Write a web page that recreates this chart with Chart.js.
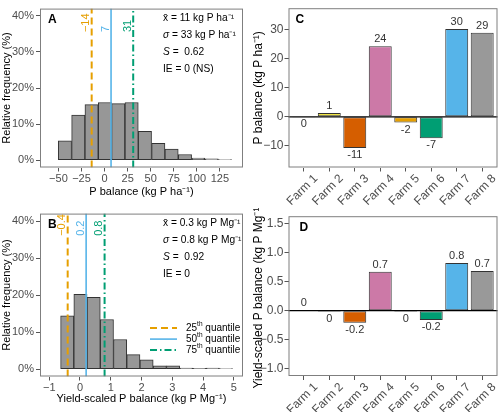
<!DOCTYPE html>
<html><head><meta charset="utf-8">
<script src="https://cdn.jsdelivr.net/npm/chart.js@4/dist/chart.umd.min.js"></script>
<style>
html,body{margin:0;padding:0;background:#fff;}
#wrap{position:relative;width:500px;height:412px;overflow:hidden;background:#fff;}
canvas{position:absolute;}
</style></head><body>
<div id="wrap">
<canvas id="cA" width="250" height="205" style="left:0;top:0"></canvas>
<canvas id="cB" width="250" height="207" style="left:0;top:205px"></canvas>
<canvas id="cC" width="250" height="208" style="left:250px;top:0"></canvas>
<canvas id="cD" width="250" height="204" style="left:250px;top:208px"></canvas>
</div>
<script>
// ---------- data ----------
const binCentersA = [-43.0, -28.5, -14.1, 0.4, 14.8, 29.3, 43.7, 58.2, 72.6, 87.1, 101.5, 116.0, 130.4];
const freqA = [5.4, 12.5, 15.4, 16.0, 15.7, 16.0, 8.0, 4.7, 3.1, 1.6, 0.6, 0.4, 0.2];
const quantilesA = [-14, 7, 31];
const xTicksA = [-50, -25, 0, 25, 50, 75, 100, 125];
const statsA = ["x̄ = 11 kg P ha⁻¹", "σ = 33 kg P ha⁻¹", "S =  0.62", "IE = 0 (NS)"];

const binCentersB = [-0.415, 0.015, 0.445, 0.875, 1.305, 1.735, 2.165, 2.595, 3.025, 3.455, 3.885, 4.315, 4.745];
const freqB = [14.4, 20.2, 19.4, 13.4, 8.0, 3.9, 2.5, 0.9, 0.9, 0.3, 0.2, 0.3, 0.1];
const quantilesB = [-0.4, 0.2, 0.8];
const xTicksB = [-1, 0, 1, 2, 3, 4, 5];
const statsB = ["x̄ = 0.3 kg P Mg⁻¹", "σ = 0.8 kg P Mg⁻¹", "S =  0.92", "IE = 0"];

const yTicksHist = [0, 10, 20, 30, 40];
const quantileNames = ["25", "50", "75"];

const farms = ["Farm 1", "Farm 2", "Farm 3", "Farm 4", "Farm 5", "Farm 6", "Farm 7", "Farm 8"];
const balanceC = [-0.1, 1.3, -10.8, 24.4, -2.0, -7.4, 30.3, 29.0];
const yTicksC = [-10, 0, 10, 20, 30];
const balanceD = [0.01, -0.02, -0.21, 0.67, -0.02, -0.16, 0.82, 0.68];
const yTicksD = [-1, -0.5, 0, 0.5, 1, 1.5];

// ---------- styles ----------
const FONT = "'Liberation Sans', Arial, sans-serif";
Chart.defaults.font.family = FONT;
const farmColors = ['#000000', '#F0E442', '#D55E00', '#CC79A7', '#E69F00', '#009E73', '#56B4E9', '#999999'];
const qColors = ['#E69F00', '#56B4E9', '#009E73'];
const qWidths = [2, 1.6, 2];
const qDash = [[7, 4], [], [7, 3, 1.5, 3]];
const minusFmt = v => String(v).replace('-', '\u2212');
const tickGrid = {display: true, drawOnChartArea: false, drawTicks: true, tickLength: 4, color: '#555', offset: false};

function drawBox(chart) {
  const a = chart.chartArea, c = chart.ctx;
  c.save(); c.strokeStyle = '#7f7f7f'; c.lineWidth = 1;
  c.strokeRect(a.left + 0.5, a.top + 0.5, a.right - a.left - 1, a.bottom - a.top - 1);
  c.restore();
}
function drawLetter(chart, letter, dx, dy) {
  const a = chart.chartArea, c = chart.ctx;
  c.save(); c.fillStyle = '#000'; c.font = 'bold 12px ' + FONT;
  c.textBaseline = 'middle'; c.textAlign = 'left';
  c.fillText(letter, a.left + dx, a.top + dy); c.restore();
}

function histChart(id, o) {
  const lineSets = o.quantiles.map((q, i) => ({
    type: 'line', label: quantileNames[i], data: [{x: q, y: -2}, {x: q, y: 42}],
    borderColor: qColors[i], borderWidth: qWidths[i], borderDash: qDash[i],
    pointRadius: 0, fill: false, order: 0
  }));
  const plugin = {
    id: 'hist' + id,
    afterDatasetsDraw(chart) { drawBox(chart); },
    afterDraw(chart) {
      const a = chart.chartArea, c = chart.ctx, xs = chart.scales.x, ys = chart.scales.y;
      drawLetter(chart, o.letter, 8, 11);
      const offs = [10, 26.5, 43.5, 61];
      o.stats.forEach((s, i) => {
        c.save(); c.fillStyle = '#000'; c.textBaseline = 'middle'; c.textAlign = 'left';
        let x = a.left + 123, y = a.top + offs[i];
        let head = s.charAt(0), rest = s.slice(1);
        if (s.startsWith('x̄')) { head = 'x̄'; rest = s.slice(2); }
        const ital = (head === 'σ' || head === 'S');
        c.font = (ital ? 'italic ' : '') + '10.2px ' + FONT;
        c.fillText(head, x, y); x += c.measureText(head).width;
        c.font = '10.2px ' + FONT; c.fillText(rest, x, y);
        c.restore();
      });
      o.quantiles.forEach((q, i) => {
        c.save(); c.fillStyle = qColors[i]; c.font = '11px ' + FONT;
        c.translate(xs.getPixelForValue(q) - 5.5, ys.getPixelForValue(o.qLabelY));
        c.rotate(-Math.PI / 2); c.textAlign = 'left'; c.textBaseline = 'middle';
        c.fillText(minusFmt(q), 0, 0); c.restore();
      });
      if (o.legend) {
        const rows = [114.5, 125.5, 136.5];
        chart.data.datasets.filter(d => d.type === 'line').forEach((d, i) => {
          const y = a.top + rows[i];
          c.save(); c.strokeStyle = d.borderColor; c.lineWidth = d.borderWidth;
          c.setLineDash(d.borderDash);
          c.beginPath(); c.moveTo(a.left + 110, y); c.lineTo(a.left + 137, y); c.stroke();
          c.setLineDash([]);
          c.fillStyle = '#000'; c.textBaseline = 'middle'; c.textAlign = 'left';
          let x = a.left + 146;
          c.font = '10px ' + FONT; c.fillText(d.label, x, y); x += c.measureText(d.label).width;
          c.font = '6.5px ' + FONT; c.fillText('th', x, y - 3.5); x += c.measureText('th').width;
          c.font = '10px ' + FONT; c.fillText(' quantile', x, y);
          c.restore();
        });
      }
    }
  };
  return new Chart(document.getElementById(id), {
    type: 'bar',
    data: {datasets: [...lineSets, {
      type: 'bar', label: 'freq', data: o.centers.map((cx, i) => ({x: cx, y: o.freq[i]})),
      backgroundColor: '#979797', borderColor: '#333', borderWidth: 1, borderSkipped: false,
      barPercentage: 1, categoryPercentage: 1, order: 1
    }]},
    options: {
      responsive: false, animation: false, devicePixelRatio: 1,
      layout: {padding: {top: o.padTop, right: 7, left: 0, bottom: 0}},
      plugins: {legend: {display: false}, tooltip: {enabled: false}},
      scales: {
        x: {type: 'linear', min: o.xmin, max: o.xmax, offset: false,
          afterBuildTicks: s => { s.ticks = o.xticks.map(v => ({value: v})); },
          afterFit: s => { s.height = o.xH; },
          grid: tickGrid, border: {display: false},
          ticks: {font: {size: 11}, color: '#4d4d4d', padding: 1, maxRotation: 0, autoSkip: false, callback: v => minusFmt(v)},
          title: {display: true, text: o.xTitle, font: {size: 11}, color: '#000', padding: {top: 0, bottom: o.xTitlePad}}},
        y: {type: 'linear', min: -2, max: 42,
          afterBuildTicks: s => { s.ticks = yTicksHist.map(v => ({value: v})); },
          afterFit: s => { s.width = 40; },
          grid: tickGrid, border: {display: false},
          ticks: {font: {size: 11}, color: '#4d4d4d', padding: 2, callback: v => v + '%'},
          title: {display: true, text: 'Relative frequency (%)', font: {size: 11}, color: '#000', padding: {top: 0, bottom: 0}}}
      }
    },
    plugins: [plugin]
  });
}

function farmChart(id, o) {
  const plugin = {
    id: 'farm' + id,
    afterDatasetsDraw(chart) {
      const a = chart.chartArea, c = chart.ctx, ys = chart.scales.y;
      const y0 = ys.getPixelForValue(0);
      c.save(); c.strokeStyle = '#000'; c.lineWidth = 1.2;
      c.beginPath(); c.moveTo(a.left, y0); c.lineTo(a.right, y0); c.stroke(); c.restore();
      drawBox(chart);
      const meta = chart.getDatasetMeta(0);
      meta.data.forEach((el, i) => {
        const v = o.values[i];
        c.save(); c.fillStyle = '#333'; c.font = '11px ' + FONT;
        c.textAlign = 'center'; c.textBaseline = 'middle';
        c.fillText(o.fmt(v), el.x, v >= 0 ? el.y - 7 : el.y + 7);
        c.restore();
      });
    },
    afterDraw(chart) { drawLetter(chart, o.letter, o.lx, 11); }
  };
  return new Chart(document.getElementById(id), {
    type: 'bar',
    data: {datasets: [{
      data: o.values.map((v, i) => ({x: i + 1, y: v})),
      backgroundColor: farmColors, borderColor: '#333', borderWidth: 1, borderSkipped: false,
      barPercentage: 0.9, categoryPercentage: 1
    }]},
    options: {
      responsive: false, animation: false, devicePixelRatio: 1,
      layout: {padding: {top: o.padTop, right: 2.5, left: 0, bottom: 0}},
      plugins: {legend: {display: false}, tooltip: {enabled: false}},
      scales: {
        x: {type: 'linear', min: 0.4, max: 8.6, offset: false,
          afterBuildTicks: s => { s.ticks = farms.map((f, i) => ({value: i + 1})); },
          afterFit: s => { s.height = o.xH; },
          grid: tickGrid, border: {display: false},
          ticks: {font: {size: 12}, color: '#4d4d4d', padding: 0, minRotation: 45, maxRotation: 45, autoSkip: false,
            labelOffset: 12, callback: (v, i) => farms[i]}},
        y: {type: 'linear', min: o.ymin, max: o.ymax,
          afterBuildTicks: s => { s.ticks = o.yticks.map(v => ({value: v})); },
          afterFit: s => { s.width = 38.5; },
          grid: tickGrid, border: {display: false},
          ticks: {font: {size: 12}, color: '#4d4d4d', padding: 1, callback: o.yfmt},
          title: {display: true, text: o.yTitle, font: {size: 12}, color: '#000', padding: {top: 1, bottom: 0}}}
      }
    },
    plugins: [plugin]
  });
}

histChart('cA', {centers: binCentersA, freq: freqA, quantiles: quantilesA, xticks: xTicksA,
  xmin: -70, xmax: 150, padTop: 3, xH: 37.5, xTitlePad: 6.4, letter: 'A', stats: statsA, qLabelY: 35.5,
  xTitle: 'P balance (kg P ha⁻¹)', legend: false});
histChart('cB', {centers: binCentersB, freq: freqB, quantiles: quantilesB, xticks: xTicksB,
  xmin: -1.3, xmax: 5.3, padTop: 5.5, xH: 35.5, xTitlePad: 6, letter: 'B', stats: statsB, qLabelY: 36,
  xTitle: 'Yield-scaled P balance (kg P Mg⁻¹)', legend: true});
farmChart('cC', {values: balanceC, ymin: -17.5, ymax: 37.5, yticks: yTicksC, padTop: 2, xH: 40.5,
  yfmt: v => minusFmt(v), fmt: v => String(Math.round(v) === 0 ? 0 : Math.round(v)),
  yTitle: 'P balance (kg P ha⁻¹)', letter: 'C', lx: 7});
farmChart('cD', {values: balanceD, ymin: -1.125, ymax: 1.625, yticks: yTicksD, padTop: 3.7, xH: 36,
  yfmt: v => minusFmt(v.toFixed(1)), fmt: v => { const r = Math.round(v * 10) / 10; return r === 0 ? '0' : String(r); },
  yTitle: 'Yield-scaled P balance (kg P Mg⁻¹)', letter: 'D', lx: 11});
</script>
</body></html>
